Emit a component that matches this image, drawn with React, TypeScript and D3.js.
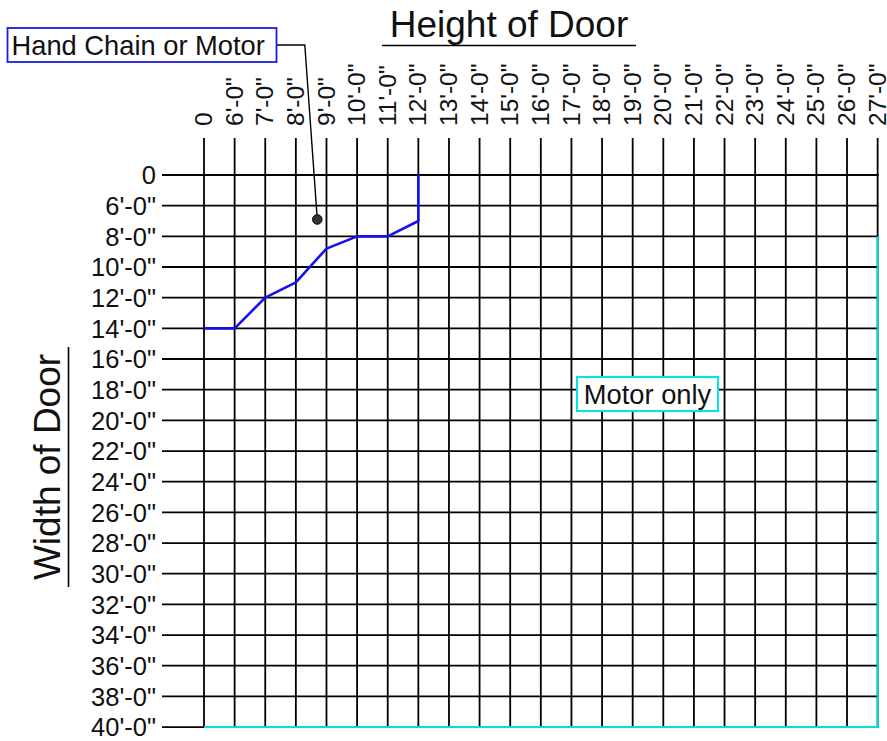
import React from "react";
import * as d3 from "d3";

// Door height (columns, feet) and their tick labels
const heightValues = [0, 6, 7, 8, 9, 10, 11, 12, 13, 14, 15, 16, 17, 18, 19, 20, 21, 22, 23, 24, 25, 26, 27];
const heightLabels = heightValues.map((v) => (v === 0 ? "0" : `${v}'-0"`));

// Door width (rows, feet) and their tick labels
const widthValues = [0, 6, 8, 10, 12, 14, 16, 18, 20, 22, 24, 26, 28, 30, 32, 34, 36, 38, 40];
const widthLabels = widthValues.map((v) => (v === 0 ? "0" : `${v}'-0"`));

// Boundary between "Hand Chain or Motor" and "Motor only"
const boundaryHeight = [0, 6, 7, 8, 9, 10, 11, 12, 12];
const boundaryWidth = [14, 14, 12, 11, 8.8, 8, 8, 7, 0];

// "Motor only" region outline (right and bottom edges)
const motorEdgeHeight = [27, 27, 0];
const motorEdgeWidth = [8, 40, 40];

// Annotation point for "Hand Chain or Motor"
const annotHeight = 8.7;
const annotWidth = 6.9;

const W = 887;
const H = 741;
const x0 = 204;
const colStep = 30.62;
const y0 = 175;
const rowStep = 30.67;

const FONT = "'Liberation Sans', Arial, Helvetica, sans-serif";

export default function App() {
  const x = d3
    .scaleLinear()
    .domain(heightValues)
    .range(heightValues.map((_, i) => x0 + i * colStep));
  const y = d3
    .scaleLinear()
    .domain(widthValues)
    .range(widthValues.map((_, i) => y0 + i * rowStep));

  const xMin = x(heightValues[0]);
  const xMax = x(heightValues[heightValues.length - 1]);
  const yMin = y(widthValues[0]);
  const yMax = y(widthValues[widthValues.length - 1]);

  const line = d3
    .line<[number, number]>()
    .x((d) => x(d[0]))
    .y((d) => y(d[1]));

  const boundaryPts: [number, number][] = boundaryHeight.map((h, i) => [h, boundaryWidth[i]]);
  const motorPts: [number, number][] = motorEdgeHeight.map((h, i) => [h, motorEdgeWidth[i]]);

  const ax = x(annotHeight);
  const ay = y(annotWidth);

  return (
    <svg
      width={W}
      height={H}
      style={{ position: "absolute", left: 0, top: 0, background: "#fff" }}
      fontFamily={FONT}
    >
      <rect x={0} y={0} width={W} height={H} fill="#fff" />

      {/* Grid: vertical lines */}
      {heightValues.map((v) => (
        <line
          key={"v" + v}
          x1={x(v)}
          x2={x(v)}
          y1={yMin - 37}
          y2={yMax}
          stroke="#000"
          strokeWidth={1.8}
        />
      ))}
      {/* Grid: horizontal lines */}
      {widthValues.map((v) => (
        <line
          key={"h" + v}
          x1={xMin - 42}
          x2={xMax + 1}
          y1={y(v)}
          y2={y(v)}
          stroke="#000"
          strokeWidth={1.8}
        />
      ))}

      {/* Top tick labels (height) */}
      {heightValues.map((v, i) => (
        <text
          key={"tl" + v}
          transform={`translate(${x(v)},${yMin - 49}) rotate(-90)`}
          textAnchor="start"
          dy="0.33em"
          fontSize={24.5}
          fill="#111"
        >
          {heightLabels[i]}
        </text>
      ))}

      {/* Left tick labels (width) */}
      {widthValues.map((v, i) => (
        <text
          key={"ll" + v}
          x={xMin - 48}
          y={y(v)}
          textAnchor="end"
          dy="0.36em"
          fontSize={25.5}
          fill="#111"
        >
          {widthLabels[i]}
        </text>
      ))}

      {/* Motor-only region edge */}
      <path d={line(motorPts) || ""} fill="none" stroke="#00e0e0" strokeWidth={2} />

      {/* Boundary line */}
      <path
        d={line(boundaryPts) || ""}
        fill="none"
        stroke="#1212f0"
        strokeWidth={2.6}
        strokeLinejoin="round"
      />

      {/* Titles */}
      <text x={509} y={37} textAnchor="middle" fontSize={37} fill="#111">
        Height of Door
      </text>
      <line x1={382} x2={636} y1={45.5} y2={45.5} stroke="#000" strokeWidth={1.6} />

      <text
        transform={`translate(60,467) rotate(-90)`}
        textAnchor="middle"
        fontSize={37}
        fill="#111"
      >
        Width of Door
      </text>
      <line x1={68.5} x2={68.5} y1={347} y2={587} stroke="#000" strokeWidth={1.6} />

      {/* Annotation: Hand Chain or Motor */}
      <path
        d={`M277,45 L${ax - 12.5},45 L${ax},${ay}`}
        fill="none"
        stroke="#000"
        strokeWidth={1.4}
      />
      <circle cx={ax} cy={ay} r={4.8} fill="#333" stroke="#000" strokeWidth={1} />
      <rect x={7.5} y={28} width={269} height={34} fill="#fff" stroke="#1a1aee" strokeWidth={1.8} />
      <text x={11.5} y={55} fontSize={27.3} fill="#111">
        Hand Chain or Motor
      </text>

      {/* Motor only label */}
      <rect x={577} y={377} width={141} height={34} fill="#fff" stroke="#00e5e5" strokeWidth={2} />
      <text x={647.5} y={403.5} textAnchor="middle" fontSize={27.3} fill="#111">
        Motor only
      </text>
    </svg>
  );
}
